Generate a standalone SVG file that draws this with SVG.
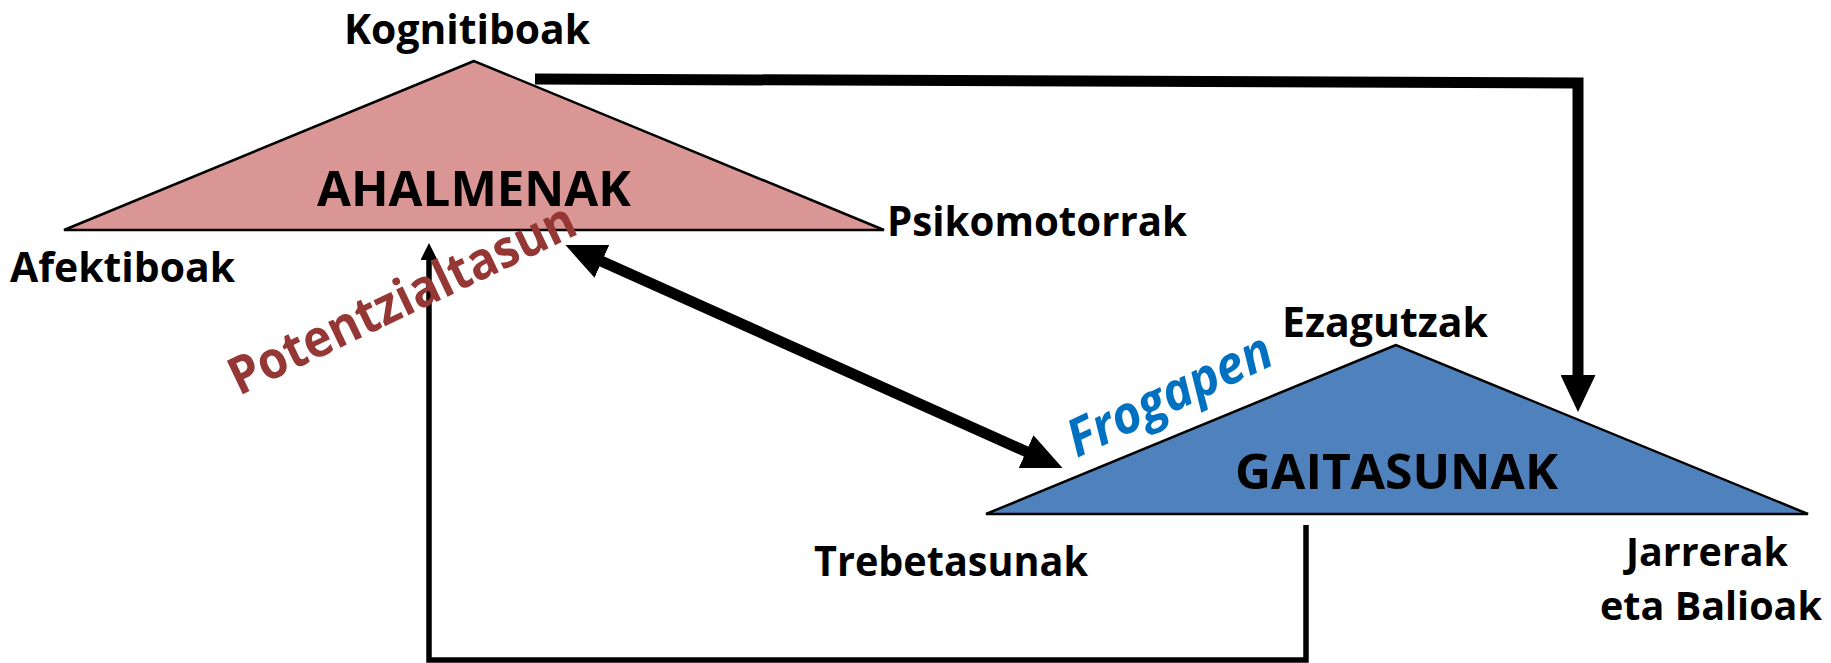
<svg xmlns="http://www.w3.org/2000/svg" width="1831" height="663" viewBox="0 0 1831 663">
<style>
.lbl{font-family:"Open Sans","Liberation Sans",sans-serif;font-weight:700;font-size:42px;fill:#000}
.lbl2{font-family:"Open Sans","Liberation Sans",sans-serif;font-weight:700;font-size:40px;fill:#000}
.title{font-family:"Open Sans","Liberation Sans",sans-serif;font-weight:700;font-size:48px;fill:#000}
.tri{stroke:#000;stroke-width:2.5;stroke-linejoin:miter}
.thick{fill:none;stroke:#000;stroke-width:11}
.thin{fill:none;stroke:#000;stroke-width:5.5}
.rot{font-family:"Open Sans","Liberation Sans",sans-serif;font-weight:700;font-size:52px}
</style>
<defs>
<marker id="bigHead" markerUnits="userSpaceOnUse" viewBox="0 0 40 36" markerWidth="40" markerHeight="36" refX="1" refY="18" orient="auto-start-reverse">
<path d="M0,0 L40,18 L0,36 Z" fill="#000"/>
</marker>
<marker id="downHead" markerUnits="userSpaceOnUse" viewBox="0 0 37 35" markerWidth="37" markerHeight="35" refX="1" refY="17.5" orient="auto">
<path d="M0,0 L37,17.5 L0,35 Z" fill="#000"/>
</marker>
<marker id="smallHead" markerUnits="userSpaceOnUse" viewBox="0 0 17 17" markerWidth="17" markerHeight="17" refX="1" refY="8.5" orient="auto">
<path d="M0,0 L17,8.5 L0,17 Z" fill="#000"/>
</marker>
</defs>
<rect width="1831" height="663" fill="#fff"/>

<g id="ahalmenak">
<polygon class="tri" points="474,61 64,230 884,230" fill="#D99694"/>
<text class="title" x="317" y="206" textLength="314" lengthAdjust="spacingAndGlyphs">AHALMENAK</text>
</g>
<g id="gaitasunak">
<polygon class="tri" points="1396,345 986,514 1808,514" fill="#4F81BD"/>
<text class="title" x="1235" y="489" textLength="323" lengthAdjust="spacingAndGlyphs">GAITASUNAK</text>
</g>

<g id="labels">
<text class="lbl" x="344" y="44" textLength="246" lengthAdjust="spacingAndGlyphs">Kognitiboak</text>
<text class="lbl" x="10" y="282" textLength="225" lengthAdjust="spacingAndGlyphs">Afektiboak</text>
<text class="lbl" x="887" y="236" textLength="300" lengthAdjust="spacingAndGlyphs">Psikomotorrak</text>
<text class="lbl" x="1282" y="337" textLength="206" lengthAdjust="spacingAndGlyphs">Ezagutzak</text>
<text class="lbl" x="814" y="576" textLength="274" lengthAdjust="spacingAndGlyphs">Trebetasunak</text>
<text class="lbl2" x="1626" y="566" textLength="162" lengthAdjust="spacingAndGlyphs">Jarrerak</text>
<text class="lbl2" x="1822" y="620" text-anchor="end" textLength="222" lengthAdjust="spacingAndGlyphs">eta Balioak</text>
</g>

<g id="connectors">
<path class="thick" d="M535,79 L1578,83 L1578,376" marker-end="url(#downHead)"/>
<path class="thick" d="M601,261 L1027,452" marker-start="url(#bigHead)" marker-end="url(#bigHead)"/>
<path class="thin" d="M1306,525 L1306,660 L429,660 L429,259" marker-end="url(#smallHead)"/>
</g>

<g id="edge-labels">
<text class="rot" x="239" y="396" fill="#953735" textLength="378" lengthAdjust="spacingAndGlyphs" transform="rotate(-25.5 239 396)">Potentzialtasun</text>
<text class="rot" x="1077" y="458" fill="#0070C0" font-style="italic" textLength="221" lengthAdjust="spacingAndGlyphs" transform="rotate(-25.4 1077 458)">Frogapen</text>
</g>
</svg>
